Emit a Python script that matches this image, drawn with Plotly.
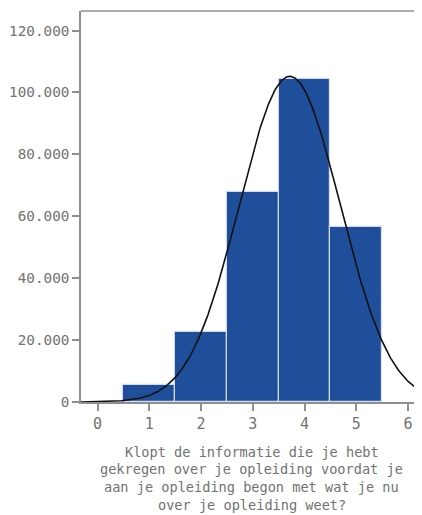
import numpy as np
import plotly.graph_objects as go

# Data
categories = [1, 2, 3, 4, 5]
counts = [5500, 22700, 67800, 104400, 56400]
y_tickvals = [0, 20000, 40000, 60000, 80000, 100000, 120000]
y_ticktext = ["0", "20.000", "40.000", "60.000", "80.000", "100.000", "120.000"]
x_tickvals = [0, 1, 2, 3, 4, 5, 6]
x_title_lines = [
    "Klopt de informatie die je hebt",
    "gekregen over je opleiding voordat je",
    "aan je opleiding begon met wat je nu",
    "over je opleiding weet?",
]

# Normal curve fitted to the histogram (mean / sd of the binned data)
c = np.array(categories, dtype=float)
n = np.array(counts, dtype=float)
N = n.sum()
mean = (c * n).sum() / N
sd = np.sqrt(((c - mean) ** 2 * n).sum() / N)
xs = np.linspace(-0.32, 6.3, 400)
ys = N * 1.0 / (sd * np.sqrt(2 * np.pi)) * np.exp(-0.5 * ((xs - mean) / sd) ** 2)

fig = go.Figure()
fig.add_trace(go.Bar(
    x=categories, y=counts, width=1.0,
    marker=dict(color="#1f4f9a", line=dict(color="#d3dbeb", width=1.2)),
    showlegend=False, hoverinfo="skip",
))
fig.add_trace(go.Scatter(
    x=xs, y=ys, mode="lines", line=dict(color="#111111", width=1.6),
    showlegend=False, hoverinfo="skip",
))

font_family = "DejaVu Sans Mono"
axis_color = "#8f8f8f"
text_color = "#727272"

# page body has an 8px margin: plot area spans x 81..422, y 11..402 in the window
plot_top, plot_bottom = 11, 402
line_centers = [451.5, 469.2, 487.0, 504.8]
annotations = []
for txt, yc in zip(x_title_lines, line_centers):
    annotations.append(dict(
        text=txt, xref="paper", yref="paper", x=0.5,
        y=(plot_bottom - yc) / (plot_bottom - plot_top),
        xanchor="center", yanchor="middle", showarrow=False,
        font=dict(size=13.6, color=text_color, family=font_family),
    ))

fig.update_layout(
    width=414, height=507,
    margin=dict(l=73, r=0, t=3, b=113, autoexpand=False),
    plot_bgcolor="white", paper_bgcolor="white",
    bargap=0,
    font=dict(family=font_family, color=text_color, size=15),
    xaxis=dict(
        range=[-0.32, 6.27], tickvals=x_tickvals,
        showgrid=False, zeroline=False,
        showline=True, linecolor=axis_color, linewidth=1.5,
        ticks="outside", ticklen=7, tickwidth=1.5, tickcolor=axis_color,
        tickfont=dict(size=15, color=text_color, family=font_family),
    ),
    yaxis=dict(
        range=[0, 126300], tickvals=y_tickvals, ticktext=y_ticktext,
        showgrid=False, zeroline=False,
        showline=True, linecolor=axis_color, linewidth=1.5,
        ticks="outside", ticklen=7, tickwidth=1.5, tickcolor=axis_color,
        tickfont=dict(size=14.3, color=text_color, family=font_family),
    ),
    shapes=[dict(type="line", xref="paper", yref="paper", x0=0, x1=1, y0=1, y1=1,
                 line=dict(color=axis_color, width=1.5))],
    annotations=annotations,
)

fig.write_html("out.html")
